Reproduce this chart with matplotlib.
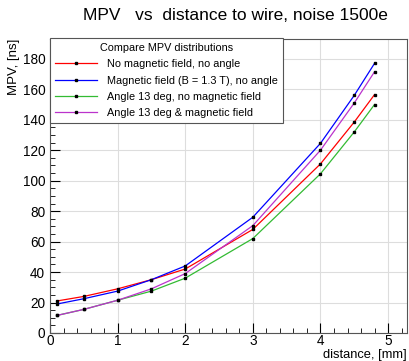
import matplotlib.pyplot as plt
from matplotlib.ticker import MultipleLocator

# dados
distancia = [0.1, 0.5, 1.0, 1.5, 2.0, 3.0, 4.0, 4.5, 4.8]
mpv_sem_campo = [21, 24, 29, 35, 42, 68, 111, 138.5, 156.5]
mpv_campo = [19, 22.5, 27.5, 35, 44, 76, 124.5, 156, 177]
mpv_angulo = [11.5, 15.5, 21.5, 27.5, 36, 62, 104.5, 132, 150]
mpv_angulo_campo = [11.5, 15.5, 21.5, 29, 39, 70.5, 120, 151, 171.5]

series = [mpv_sem_campo, mpv_campo, mpv_angulo, mpv_angulo_campo]
labels = ['No magnetic field, no angle', 'Magnetic field (B = 1.3 T), no angle',
          'Angle 13 deg, no magnetic field', 'Angle 13 deg & magnetic field']
cores = ['#ff0000', '#0000ff', '#33bb33', '#bb33cc']

plt.rcParams['font.family'] = ['Liberation Sans', 'DejaVu Sans']

fig = plt.figure(figsize=(4.09, 3.61), dpi=100)
ax = fig.add_axes([50 / 409, 1 - 333 / 361, 357 / 409, 294 / 361])

for y, cor, label in zip(series, cores, labels):
    ax.plot(distancia, y, color=cor, lw=0.9, marker='s', ms=2,
            mfc='black', mec='black', label=label)

ax.set_xlim(0, 5.28)
ax.set_ylim(0, 193)
ax.xaxis.set_major_locator(MultipleLocator(1))
ax.xaxis.set_minor_locator(MultipleLocator(0.2))
ax.yaxis.set_major_locator(MultipleLocator(20))
ax.yaxis.set_minor_locator(MultipleLocator(5))
ax.tick_params(which='both', direction='in', labelsize=9.8, top=False, right=False)
ax.tick_params(which='major', length=7)
ax.tick_params(which='minor', length=3.5)
ax.tick_params(axis='x', pad=1)
ax.grid(True, which='major', color='#dddddd', lw=0.8)
ax.set_axisbelow(True)
for s in ax.spines.values():
    s.set_color('#555555')
    s.set_linewidth(0.8)

ax.set_ylabel('MPV, [ns]', fontsize=9.5, loc='top', labelpad=2)
fig.text(407 / 409, 1 - 355 / 361, 'distance, [mm]', ha='right', va='center', fontsize=9.3)

fig.text(235 / 409, 1 - 16 / 361, 'MPV   vs  distance to wire, noise 1500e',
         ha='center', va='center', fontsize=12.5)

leg = ax.legend(loc='upper left', bbox_to_anchor=(0, 1.003), fontsize=7.8,
                title='Compare MPV distributions', title_fontsize=7.8,
                frameon=True, fancybox=False, shadow=False, borderpad=0.45,
                labelspacing=0.58, handlelength=3.9, handletextpad=0.9,
                borderaxespad=0)
leg.get_frame().set_edgecolor('#555555')
leg.get_frame().set_linewidth(0.8)
leg.get_frame().set_alpha(1)

fig.savefig('out.png', dpi=100)
